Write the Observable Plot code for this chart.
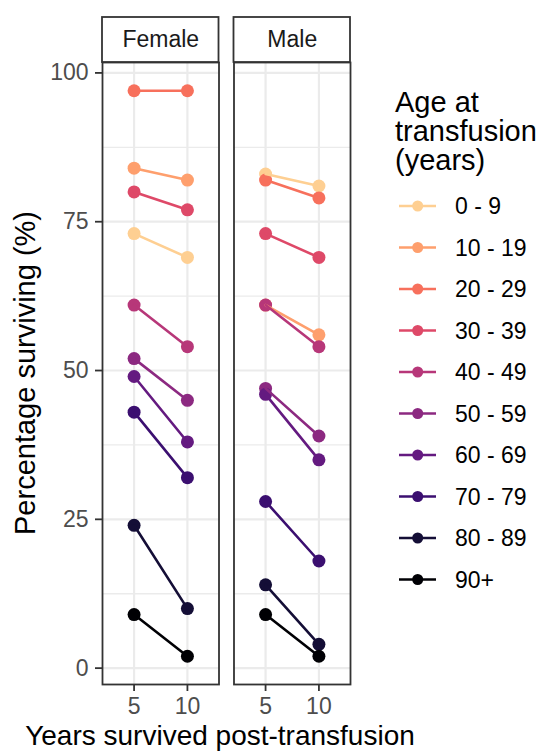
<!DOCTYPE html>
<html><head><meta charset="utf-8">
<script src="https://cdn.jsdelivr.net/npm/d3@7"></script>
<script src="https://cdn.jsdelivr.net/npm/@observablehq/plot@0.6"></script>
<style>
body{margin:0;background:#fff;}
#wrap{position:relative;width:541px;height:751px;overflow:hidden;font-family:"Liberation Sans",Arial,sans-serif;}
#wrap svg{position:absolute;left:0;top:0;}
</style></head><body><div id="wrap"></div>
<script>
const sexes = ["Female", "Male"];
const ageGroups = ["0 - 9", "10 - 19", "20 - 29", "30 - 39", "40 - 49", "50 - 59", "60 - 69", "70 - 79", "80 - 89", "90+"];
const years = [5, 10];
const female5  = [73, 84, 97, 80, 61, 52, 49, 43, 24, 9];
const female10 = [69, 82, 97, 77, 54, 45, 38, 32, 10, 2];
const male5    = [83, 61, 82, 73, 61, 47, 46, 28, 14, 9];
const male10   = [81, 56, 79, 69, 54, 39, 35, 18, 4, 2];
const palette = ["#FECF92", "#FE9F6D", "#F7705C", "#DE4968", "#B73779", "#8C2981", "#641A80", "#3B0F70", "#140E36", "#000004"];
const yTicks = [0, 25, 50, 75, 100];
const yMinor = [12.5, 37.5, 62.5, 87.5];
const xTicks = [5, 10];
const yDomain = [-2.75, 101.75];
const xDomain = [2.04, 12.96];

const series = {Female: [female5, female10], Male: [male5, male10]};
const rows = [];
for (const sex of sexes) {
  ageGroups.forEach((age, i) => {
    years.forEach((yr, j) => {
      rows.push({sex, age, year: yr, pct: series[sex][j][i]});
    });
  });
}

const font = '"Liberation Sans", Arial, sans-serif';

const plot = Plot.plot({
  width: 360,
  height: 751,
  marginLeft: 102,
  marginRight: 10,
  marginTop: 62,
  marginBottom: 67,
  style: {fontFamily: font, background: "transparent"},
  fx: {domain: sexes, paddingInner: 0.114, paddingOuter: 0, round: false, axis: null, label: null},
  x: {domain: xDomain, label: null},
  y: {domain: yDomain, label: null},
  color: {type: "ordinal", domain: ageGroups, range: palette, legend: false},
  marks: [
    Plot.gridY(yMinor, {stroke: "#EBEBEB", strokeOpacity: 1, strokeWidth: 1.3}),
    Plot.gridY(yTicks, {stroke: "#EBEBEB", strokeOpacity: 1, strokeWidth: 2.2}),
    Plot.gridX(xTicks, {stroke: "#EBEBEB", strokeOpacity: 1, strokeWidth: 2.2}),
    Plot.dot(rows, {fx: "sex", x: "year", y: "pct", fill: "age", r: 6.5, stroke: null}),
    Plot.line(rows, {fx: "sex", x: "year", y: "pct", z: "age", stroke: "age", strokeWidth: 2.6}),
    Plot.frame({stroke: "#333333", strokeWidth: 1.8}),
    Plot.rect(sexes, {fx: d => d, x1: xDomain[0], x2: xDomain[1], y1: yDomain[1], y2: yDomain[1], insetTop: -45, fill: "white", stroke: "#333333", strokeWidth: 1.8}),
    Plot.text(sexes, {fx: d => d, text: d => d, frameAnchor: "top", lineAnchor: "middle", dy: -22.5, fontSize: 23, fill: "#1A1A1A"}),
    Plot.axisY(yTicks, {tickSize: 7, tickPadding: 7, fontSize: 23, stroke: "#333333", fill: "#4D4D4D", strokeWidth: 1.8, label: null}),
    Plot.axisX(xTicks, {tickSize: 7, tickPadding: 6, fontSize: 23, stroke: "#333333", fill: "#4D4D4D", strokeWidth: 1.8, label: null})
  ]
});

const wrap = document.getElementById("wrap");
wrap.appendChild(plot);

const color = plot.scale("color");
const svg = d3.select(wrap).append("svg")
  .attr("width", 541).attr("height", 751)
  .style("font-family", font);

// axis titles
svg.append("text")
  .attr("transform", "translate(35,373) rotate(-90)")
  .attr("text-anchor", "middle")
  .attr("font-size", 29).attr("fill", "black")
  .text("Percentage surviving (%)");
svg.append("text")
  .attr("x", 220).attr("y", 745)
  .attr("text-anchor", "middle")
  .attr("font-size", 28).attr("fill", "black")
  .text("Years survived post-transfusion");

// legend
const titleLines = ["Age at", "transfusion", "(years)"];
titleLines.forEach((t, i) => {
  svg.append("text").attr("x", 395).attr("y", 112 + i * 29)
    .attr("font-size", 29).attr("fill", "black").text(t);
});
ageGroups.forEach((age, i) => {
  const cy = 206 + i * 41.5;
  const c = color.apply(age);
  svg.append("line").attr("x1", 399).attr("x2", 436).attr("y1", cy).attr("y2", cy)
    .attr("stroke", c).attr("stroke-width", 2.6);
  svg.append("circle").attr("cx", 417.7).attr("cy", cy).attr("r", 5.5).attr("fill", c);
  svg.append("text").attr("x", 455).attr("y", cy).attr("dy", "0.35em")
    .attr("font-size", 23).attr("fill", "black").text(age);
});
</script>
</body></html>
